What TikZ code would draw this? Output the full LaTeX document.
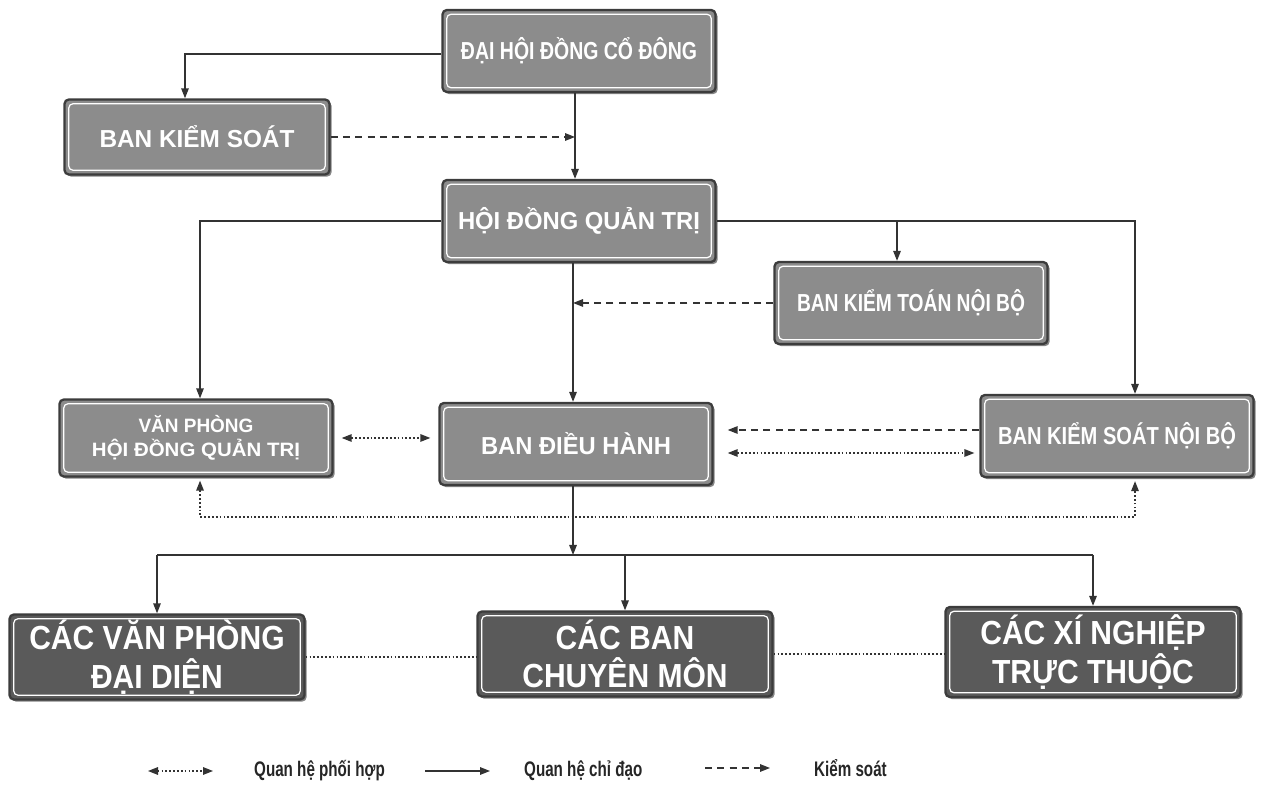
\documentclass[tikz,border=0pt]{standalone}
\usepackage{fontspec}
\setmainfont{Liberation Sans}
\newfontfamily\boxfont{Liberation Sans}
\newfontfamily\bigboxfont[FakeStretch=0.9]{Liberation Sans}
\newfontfamily\legendfont[FakeStretch=0.72]{Liberation Sans}
\usetikzlibrary{arrows.meta, positioning, calc, shadows}
\definecolor{boxgray}{HTML}{8C8C8C}
\definecolor{darkbox}{HTML}{5A5A5A}
\definecolor{edgegray}{HTML}{3C3C3C}
\definecolor{linegray}{HTML}{333333}
% text squeezed or stretched sideways to a given width
\newcommand{\fitw}[2]{\resizebox{#1}{\height}{#2}}

\begin{document}
\begin{tikzpicture}[x=0.2mm, y=-0.2mm,
    >={Triangle[length=2mm, width=1.5mm]},
    unit/.style={rectangle, rounded corners=2.5pt, draw=edgegray, line width=1.3pt,
        fill=boxgray, text=white, align=center, inner sep=2pt,
        minimum width=54.6mm, minimum height=16.4mm,
        font=\boxfont\bfseries\fontsize{14}{16}\selectfont,
        drop shadow={shadow xshift=1.2pt, shadow yshift=-1.2pt, fill=black!60, opacity=.8},
        path picture={\draw[white, line width=.7pt]
            ([shift={(2.4pt,-2.4pt)}]path picture bounding box.north west) rectangle
            ([shift={(-2.4pt,2.4pt)}]path picture bounding box.south east);}},
    bigunit/.style={unit, fill=darkbox, minimum width=59mm, minimum height=17mm,
        font=\bigboxfont\bfseries\fontsize{19}{22}\selectfont},
    ctrl/.style={->, draw=linegray, line width=.8pt},
    check/.style={->, draw=linegray, line width=.8pt, dash pattern=on 4pt off 3pt},
    coop/.style={<->, draw=linegray, line width=.8pt, dash pattern=on 1pt off 1.2pt},
    coopline/.style={draw=linegray, line width=.8pt, dash pattern=on 1pt off 1.2pt},
    legend/.style={font=\legendfont\bfseries\fontsize{12}{14}\selectfont, text=black!85, anchor=west}]

\useasboundingbox (0,0) rectangle (1266,794);

% boxes
\node[unit] (dhdcd) at (579,51) {\fitw{47.2mm}{ĐẠI HỘI ĐỒNG CỔ ĐÔNG}};
\node[unit, minimum width=53mm, minimum height=15mm] (bks) at (197,137) {\fitw{39mm}{BAN KIỂM SOÁT}};
\node[unit] (hdqt) at (579,221) {\fitw{48.4mm}{HỘI ĐỒNG QUẢN TRỊ}};
\node[unit] (bktnb) at (911,303) {\fitw{45.6mm}{BAN KIỂM TOÁN NỘI BỘ}};
\node[unit, minimum height=15.4mm, font=\boxfont\bfseries\fontsize{11}{14}\selectfont] (vphdqt) at (196,438)
    {\fitw{23mm}{VĂN PHÒNG}\\\fitw{41.6mm}{HỘI ĐỒNG QUẢN TRỊ}};
\node[unit] (bdh) at (576,444) {\fitw{38mm}{BAN ĐIỀU HÀNH}};
\node[unit] (bksnb) at (1117,436) {\fitw{47.6mm}{BAN KIỂM SOÁT NỘI BỘ}};
\node[bigunit] (vpdd) at (157,657) {CÁC VĂN PHÒNG\\ĐẠI DIỆN};
\node[bigunit] (cbcm) at (625,654) {CÁC BAN\\CHUYÊN MÔN};
\node[bigunit, minimum height=18mm] (xntt) at (1093,652) {CÁC XÍ NGHIỆP\\TRỰC THUỘC};

% helper points
\path ([xshift=-0.8mm]hdqt.north) coordinate (hdqt-in)
      ([xshift=-1.2mm]hdqt.south) coordinate (hdqt-out)
      ([xshift=-2.8mm]bktnb.north) coordinate (bktnb-in)
      ([xshift=3.6mm]bksnb.north) coordinate (bksnb-in)
      ([xshift=3.6mm]bksnb.south) coordinate (bksnb-s)
      ([xshift=0.8mm]vphdqt.south) coordinate (vph-s)
      ([yshift=-3.4mm]bksnb.west) coordinate (c453);
\coordinate (loop) at (0,517);
\coordinate (split) at (573,555);

% chi dao
\draw[ctrl] ([yshift=-0.6mm]dhdcd.west) -| ([xshift=-2.4mm]bks.north);
\draw[ctrl] (hdqt-in |- dhdcd.south) -- (hdqt-in);
\draw[ctrl] (hdqt.west) -| ([xshift=0.8mm]vphdqt.north);
\draw[ctrl] (hdqt.east) -| (bksnb-in);
\draw[ctrl] (hdqt.east -| bktnb-in) -- (bktnb-in);
\draw[ctrl] (hdqt-out) -- (hdqt-out |- bdh.north);
\draw[ctrl] (split |- bdh.south) -- (split);
\draw[draw=linegray, line width=.8pt] (split -| vpdd.north) -- (split -| xntt.north);
\foreach \n in {vpdd, cbcm, xntt}
    \draw[ctrl] (split -| \n.north) -- (\n.north);

% kiem soat
\draw[check] (bks.east) -- (bks.east -| hdqt-in);
\draw[check] (bktnb.west) -- (bktnb.west -| hdqt-out);
\draw[check, shorten >=2.8mm] ([yshift=1.2mm]bksnb.west) -- ([yshift=1.2mm]bksnb.west -| bdh.east);

% phoi hop
\draw[coop, shorten <=1.6mm, shorten >=1.6mm] (vphdqt.east) -- (vphdqt.east -| bdh.west);
\draw[coop, shorten <=2.8mm, shorten >=1mm] (c453 -| bdh.east) -- (c453);
\draw[coop, shorten <=.6mm, shorten >=.6mm] (vph-s) -- (vph-s |- loop) -| (bksnb-s);
\draw[coopline] (vpdd.east) -- (vpdd.east -| cbcm.west);
\draw[coopline] (cbcm.east) -- (cbcm.east -| xntt.west);

% legend
\node[legend] (lg1) at (248,771) {Quan hệ phối hợp};
\node[legend] (lg2) at (518,771) {Quan hệ chỉ đạo};
\node[legend] (lg3) at (808,768) {Kiểm soát};
\draw[coop] ([xshift=-20mm]lg1.west) -- ([xshift=-7mm]lg1.west);
\draw[ctrl] ([xshift=-18.6mm]lg2.west) -- ([xshift=-5.6mm]lg2.west);
\draw[check] ([xshift=-20.6mm]lg3.west) -- ([xshift=-7.6mm]lg3.west);
\end{tikzpicture}
\end{document}
